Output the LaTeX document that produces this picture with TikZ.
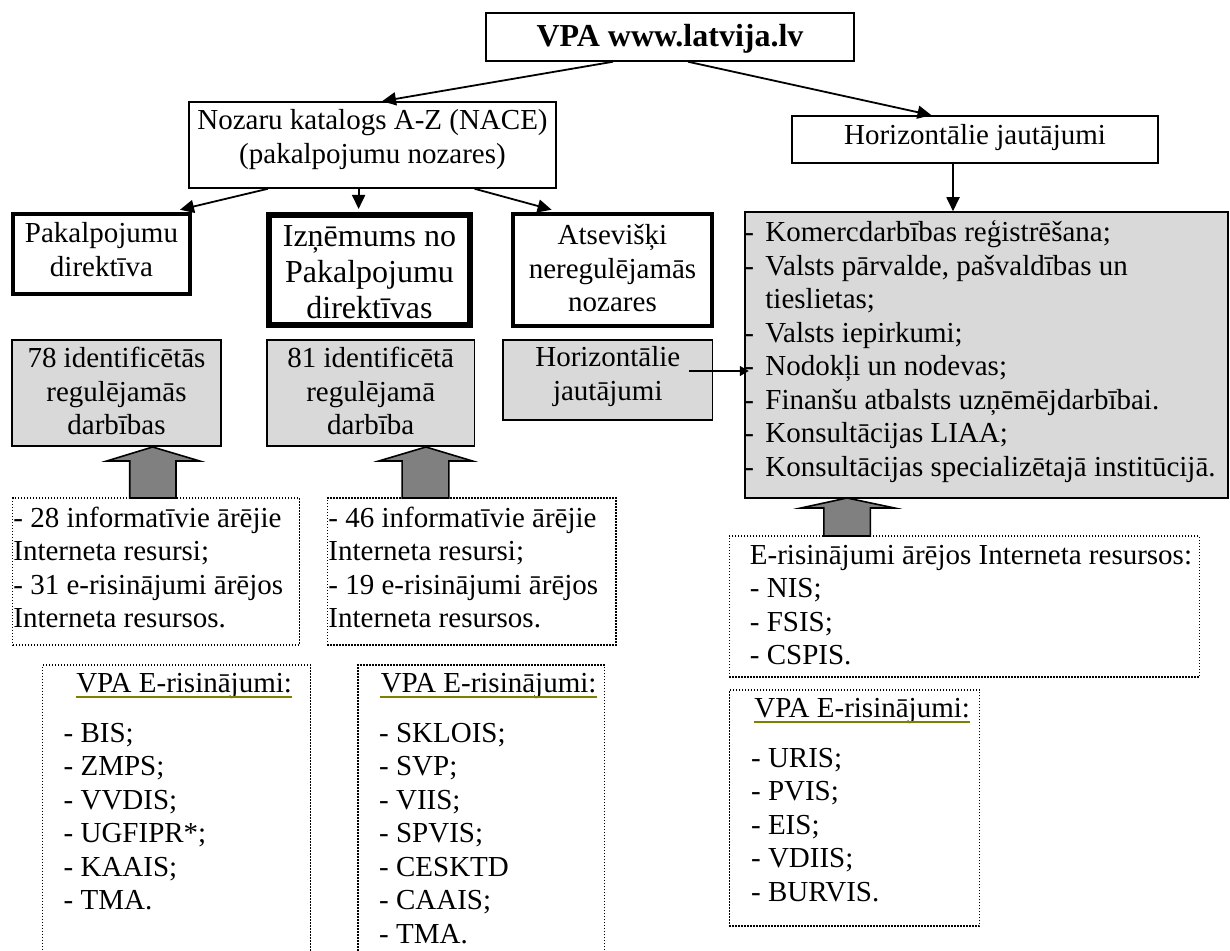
\documentclass[tikz,border=0pt]{standalone}
\usepackage{fontspec}
\setmainfont{Liberation Serif}
\usetikzlibrary{arrows.meta,fit,calc}
\definecolor{boxgray}{RGB}{217,217,217}
\definecolor{blockgray}{RGB}{128,128,128}
\definecolor{ulinecol}{RGB}{128,128,0}
\newcommand{\nfont}{\fontsize{14.5}{16.75}\selectfont}
\newcommand{\dsh}{\makebox[10.5pt][l]{-}}
\begin{document}
\begin{tikzpicture}[x=0.5pt,y=-0.5pt, font=\nfont,
  thinbox/.style={draw, line width=0.75pt, inner sep=0pt},
  thickbox/.style={draw, line width=2.25pt, inner sep=0pt},
  thickerbox/.style={draw, line width=3pt, inner sep=0pt},
  graybox/.style={draw, fill=boxgray, line width=0.75pt, inner sep=0pt},
  dotbox/.style={draw, line width=0.7pt, dash pattern=on 0.7pt off 0.8pt, inner sep=0pt},
  ctext/.style={inner sep=0pt, anchor=base},
  ltext/.style={inner sep=0pt, anchor=base west},
  conn/.style={line width=0.9pt, -{Triangle[length=7pt,width=6.5pt]}},
  smallconn/.style={line width=0.75pt, -{Triangle[length=4.5pt,width=5pt]}},
  blockarrow/.style={draw, fill=blockgray, line width=0.8pt, line join=miter},
  ulinestyle/.style={draw=ulinecol, line width=0.75pt}]
\useasboundingbox (0,0) rectangle (1230,951);
\fill[white] (0,0) rectangle (1230,951);
\clip (0,0) rectangle (1230,951);

% top level
\node[thinbox, fit={(486,13) (854,61)}] (T) {};
\node[ctext, font=\fontsize{16}{19}\selectfont\bfseries] (tT) at (670,47) {VPA www.latvija.lv};

\node[thinbox, fit={(189,102) (556,188)}] (N) {};
\node[ctext] (tN) at (372.5,130) {\parbox[t]{200pt}{\centering Nozaru katalogs A-Z (NACE)\\(pakalpojumu nozares)}};

\node[thinbox, fit={(792,116) (1158,163)}] (H) {};
\node[ctext] (tH) at (975,145) {Horizontālie jautājumi};

% thick boxes
\node[thickbox, fit={(13,214) (190,294)}] (P1) {};
\node[ctext] (tP1) at (101.5,243) {\parbox[t]{100pt}{\centering Pakalpojumu\\direktīva}};

\node[thickerbox, fit={(269,215) (470,325)}] (P2) {};
\node[ctext, font=\fontsize{16}{18}\selectfont] (tP2) at (369.5,247) {\parbox[t]{110pt}{\centering Izņēmums no\\Pakalpojumu\\direktīvas}};

\node[thickbox, fit={(513,214) (712,326)}] (P3) {};
\node[ctext] (tP3) at (612.5,245) {\parbox[t]{110pt}{\centering Atsevišķi\\neregulējamās\\nozares}};

% big gray box
\node[graybox, fit={(745,212) (1228,498)}] (G) {};
\node[ltext] (tG) at (744,242) {\parbox[t]{260pt}{\raggedright
\dsh Komercdarbības reģistrēšana;\\
\dsh Valsts pārvalde, pašvaldības un\\
\hspace*{10.5pt}tieslietas;\\
\dsh Valsts iepirkumi;\\
\dsh Nodokļi un nodevas;\\
\dsh Finanšu atbalsts uzņēmējdarbībai.\\
\dsh Konsultācijas LIAA;\\
\dsh Konsultācijas specializētajā institūcijā.}};

% gray row
\node[graybox, fit={(12,340) (221,446)}] (G1) {};
\node[ctext] (tG1) at (116.5,368) {\parbox[t]{110pt}{\centering 78 identificētās\\regulējamās\\darbības}};
\node[graybox, fit={(267,340) (474.5,446)}] (G2) {};
\node[ctext] (tG2) at (370.7,368) {\parbox[t]{110pt}{\centering 81 identificētā\\regulējamā\\darbība}};
\node[graybox, fit={(503,340) (712.5,420)}] (G3) {};
\node[ctext] (tG3) at (607.8,367) {\parbox[t]{110pt}{\centering Horizontālie\\jautājumi}};

% dotted boxes
\node[dotbox, fit={(12.7,498) (299.3,645)}] (A) {};
\node[ltext] (tA) at (13,527) {\parbox[t]{150pt}{\raggedright - 28 informatīvie ārējie\\Interneta resursi;\\- 31 e-risinājumi ārējos\\Interneta resursos.}};
\node[dotbox, fit={(327.4,498) (616,645)}] (B) {};
\node[ltext] (tB) at (328,527) {\parbox[t]{150pt}{\raggedright - 46 informatīvie ārējie\\Interneta resursi;\\- 19 e-risinājumi ārējos\\Interneta resursos.}};
\node[dotbox, fit={(729.4,536) (1199.4,677)}] (C) {};
\node[ltext] (tC) at (749.5,564) {\parbox[t]{240pt}{\raggedright E-risinājumi ārējos Interneta resursos:\\- NIS;\\- FSIS;\\- CSPIS.}};

\node[dotbox, fit={(42.7,665) (310.4,965)}] (D) {};
\node[ltext] (tDt) at (75.9,692) {VPA E-risinājumi:};
\draw[ulinestyle] ([yshift=-2.5pt]tDt.base west) -- ([yshift=-2.5pt]tDt.base east);
\node[ltext] (tD) at (63.3,742) {\parbox[t]{100pt}{\raggedright - BIS;\\- ZMPS;\\- VVDIS;\\- UGFIPR*;\\- KAAIS;\\- TMA.}};

\node[dotbox, fit={(357.9,665) (604.2,965)}] (E) {};
\node[ltext] (tEt) at (380.4,692) {VPA E-risinājumi:};
\draw[ulinestyle] ([yshift=-2.5pt]tEt.base west) -- ([yshift=-2.5pt]tEt.base east);
\node[ltext] (tE) at (378.8,742) {\parbox[t]{100pt}{\raggedright - SKLOIS;\\- SVP;\\- VIIS;\\- SPVIS;\\- CESKTD\\- CAAIS;\\- TMA.}};

\node[dotbox, fit={(729.4,690) (979.7,926)}] (F) {};
\node[ltext] (tFt) at (753.9,717) {VPA E-risinājumi:};
\draw[ulinestyle] ([yshift=-2.5pt]tFt.base west) -- ([yshift=-2.5pt]tFt.base east);
\node[ltext] (tF) at (750.7,767) {\parbox[t]{100pt}{\raggedright - URIS;\\- PVIS;\\- EIS;\\- VDIIS;\\- BURVIS.}};

% block arrows
\draw[blockarrow] (106.8,461) -- (152.6,447) -- (199.7,461) -- (176,461) -- (176,498) -- (129.7,498) -- (129.7,461) -- cycle;
\draw[blockarrow] (378.8,461) -- (425.9,447) -- (472.5,461) -- (448.8,461) -- (448.8,498) -- (402.1,498) -- (402.1,461) -- cycle;
\draw[blockarrow] (800.9,508) -- (847,498) -- (894.5,508) -- (870.4,508) -- (870.4,536) -- (823.8,536) -- (823.8,508) -- cycle;

% connectors
\draw[conn] ([xshift=-28.5pt]T.south) -- ([xshift=4.75pt]N.north);
\draw[conn] ([xshift=9pt]T.south) -- ([xshift=-21.75pt]H.north);
\draw[conn] ([xshift=-11pt]H.south) -- ([xshift=-16.75pt]G.north);
\draw[conn] ([xshift=-52.25pt]N.south) -- ([xshift=39.25pt,yshift=1pt]P1.north);
\draw[conn] ([xshift=-6.95pt]N.south) -- ([xshift=-5.45pt,yshift=1.5pt]P2.north);
\draw[conn] ([xshift=51pt]N.south) -- ([xshift=-30.45pt,yshift=1pt]P3.north);
\draw[smallconn] ([xshift=-12.25pt,yshift=4.5pt]G3.east) -- ([xshift=2.25pt,yshift=-8pt]G.west);
\end{tikzpicture}
\end{document}
